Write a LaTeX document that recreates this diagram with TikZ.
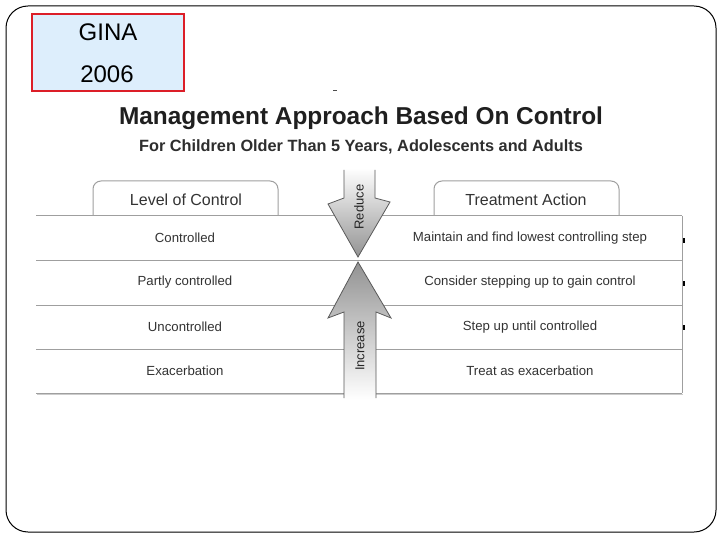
\documentclass[tikz,border=0pt]{standalone}
\usepackage{fontspec}
\setmainfont{Liberation Sans}
\begin{document}
\begin{tikzpicture}[x=1pt,y=-1pt,
  rowline/.style={draw=gray!75,line width=1pt},
  celltxt/.style={font=\fontsize{13.2}{15}\selectfont,text=black!80,inner sep=0pt,anchor=center},
  tabbox/.style={draw=gray!75,line width=1pt,rounded corners=8pt,fill=white},
  tabtxt/.style={font=\fontsize{16}{18}\selectfont,text=black!80,inner sep=0pt},
  arrowtxt/.style={font=\fontsize{13}{15}\selectfont,text=black!85,inner sep=0pt,rotate=90},
  dotmark/.style={fill=black,inner sep=0pt,minimum width=2pt,minimum height=5pt}]
\useasboundingbox (0,0) rectangle (720,540);
\fill[white] (0,0) rectangle (720,540);
% slide frame
\draw[black,line width=1pt,rounded corners=22pt] (6,6) rectangle (716,532);
% GINA box
\node[draw={rgb,255:red,220;green,30;blue,40},line width=2pt,fill={rgb,255:red,221;green,238;blue,252},
  minimum width=152pt,minimum height=77pt,inner sep=0pt] (gina) at (108,53) {};
\node[font=\fontsize{24}{27}\selectfont,inner sep=0pt] (ginat) at (108,32) {GINA};
\node[font=\fontsize{24}{27}\selectfont,inner sep=0pt] (ginay) at (107,74) {2006};
% tiny mark
\draw[black!70,line width=0.8pt] (333,90) -- (337,90);
% titles
\node[font=\bfseries\fontsize{24.4}{28}\selectfont,text=black!88,inner sep=0pt] (title) at (361,118) {Management Approach Based On Control};
\node[font=\bfseries\fontsize{16.3}{19}\selectfont,text=black!82,inner sep=0pt] (sub) at (361,147) {For Children Older Than 5 Years, Adolescents and Adults};
% tabs
\draw[tabbox] (93,216) -- (93,181) -- (278,181) -- (278,216);
\draw[tabbox] (434,216) -- (434,181) -- (619,181) -- (619,216);
\node[tabtxt] (lhead) at (186,200) {Level of Control};
\node[tabtxt] (rhead) at (526,200) {Treatment Action};
% table rows
\fill[white] (36,216) rectangle (682,393);
\foreach \yy in {216,260,305,349,393}{
  \draw[rowline] (36,\yy) -- (682,\yy);
}
\draw[rowline] (682,216) -- (682,393);
\draw[gray!40,line width=1pt] (37,394.5) -- (344,394.5);
\draw[gray!40,line width=1pt] (376,394.5) -- (683,394.5);
% arrows
\shade[top color=white,bottom color=gray!85]
  (344,168) -- (344,198) -- (328,204) -- (358,257) -- (390,202) -- (375,198) -- (375,168) -- cycle;
\draw[gray!70!black,line width=0.8pt]
  (344,170) -- (344,198) -- (328,204) -- (358,257) -- (390,202) -- (375,198) -- (375,170);
\shade[top color=gray!85,bottom color=white]
  (358,262) -- (328,318) -- (344,312) -- (344,400) -- (376,400) -- (376,312) -- (391,318) -- cycle;
\draw[gray!70!black,line width=0.8pt]
  (344,398) -- (344,312) -- (328,318) -- (358,262) -- (391,318) -- (376,312) -- (376,398);
\node[arrowtxt] (reduce) at (359,207) {Reduce};
\node[arrowtxt] (increase) at (360,346) {Increase};
% cell texts
\node[celltxt] (l1) at (185,238) {Controlled};
\node[celltxt] (l2) at (185,282.5) {Partly controlled};
\node[celltxt] (l3) at (185,327) {Uncontrolled};
\node[celltxt] (l4) at (185,371) {Exacerbation};
\node[celltxt] (r1) at (530,238) {Maintain and find lowest controlling step};
\node[celltxt] (r2) at (530,282.5) {Consider stepping up to gain control};
\node[celltxt] (r3) at (530,327) {Step up until controlled};
\node[celltxt] (r4) at (530,371) {Treat as exacerbation};
% right-edge marks
\node[dotmark] (d1) at (683.5,240) {};
\node[dotmark] (d2) at (683.5,283) {};
\node[dotmark] (d3) at (683.5,327) {};
\end{tikzpicture}
\end{document}
